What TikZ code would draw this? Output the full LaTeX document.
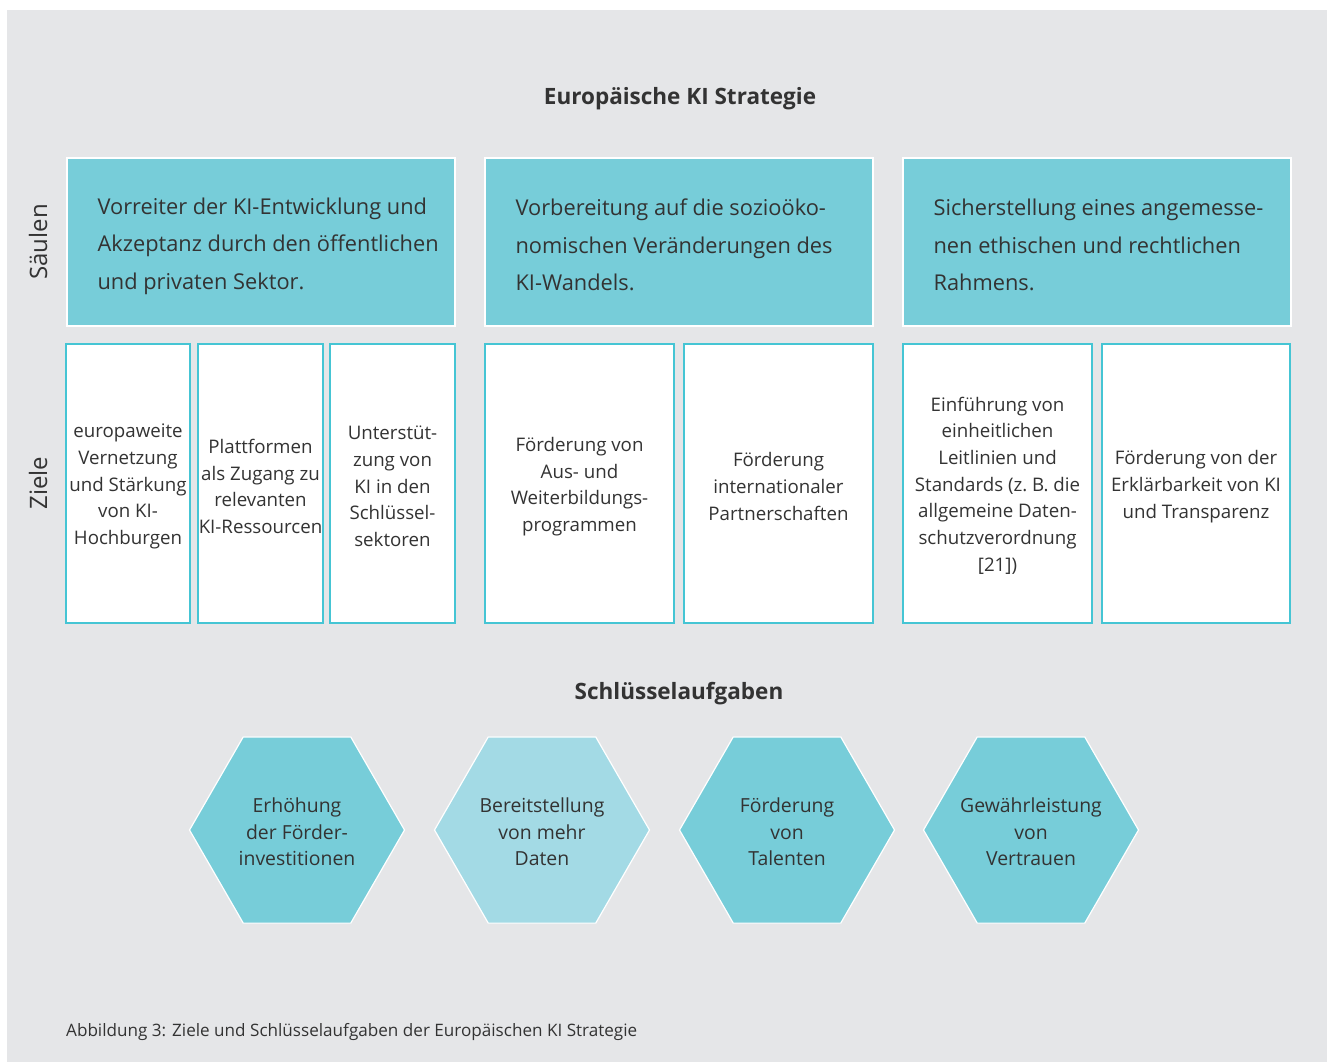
\documentclass[tikz,border=0pt]{standalone}
\usepackage{fontspec}
\setmainfont{Open Sans}
\usetikzlibrary{shapes.geometric}
\definecolor{bg}{HTML}{E5E6E8}
\definecolor{cy}{HTML}{77CDD9}
\definecolor{cyl}{HTML}{A3DAE5}
\definecolor{cyb}{HTML}{45C5D4}
\definecolor{tx}{HTML}{333333}
\begin{document}
\begin{tikzpicture}[x=1pt,y=-1pt,
  every node/.style={text=tx},
  saule/.style={fill=cy, draw=white, line width=1.2pt, minimum width=388pt, minimum height=168pt, inner sep=0pt},
  sauletext/.style={anchor=west, inner sep=0pt, align=left, font=\fontsize{21.8}{37.5}\selectfont},
  ziel/.style={fill=white, draw=cyb, line width=1.4pt, minimum height=279pt, inner sep=0pt},
  zieltext/.style={inner sep=0pt, align=center, font=\fontsize{18.7}{26.7}\selectfont},
  hexa/.style={regular polygon, regular polygon sides=6, minimum size=215pt, inner sep=0pt, draw=white, line width=1.2pt},
  hextext/.style={align=center, inner sep=0pt, font=\fontsize{19.4}{26.7}\selectfont},
  sidelabel/.style={rotate=90, font=\fontsize{24}{28}\selectfont},
  heading/.style={font=\fontsize{22.5}{26}\selectfont\bfseries}
]
\useasboundingbox (0,0) rectangle (1327,1062);
\fill[bg] (7,10) rectangle (1327,1062);

\node[heading] (title) at (680,99) {Europäische KI Strategie};

\node[sidelabel] (lsaeulen) at (38,242) {Säulen};
\node[sidelabel] (lziele) at (38,483) {Ziele};

\node[saule] (s1) at (261,242) {};
\node[saule] (s2) at (679,242) {};
\node[saule] (s3) at (1097,242) {};
\node[sauletext] (s1t) at ([xshift=31pt,yshift=-4pt]s1.west) {Vorreiter der KI-Entwicklung und\\Akzeptanz durch den öffentlichen\\und privaten Sektor.};
\node[sauletext] (s2t) at ([xshift=31pt,yshift=-3pt]s2.west) {Vorbereitung auf die sozioöko-\\nomischen Veränderungen des\\KI-Wandels.};
\node[sauletext] (s3t) at ([xshift=31pt,yshift=-3pt]s3.west) {Sicherstellung eines angemesse-\\nen ethischen und rechtlichen\\Rahmens.};

\node[ziel, minimum width=124pt] (z1) at (128,483.5) {};
\node[ziel, minimum width=125pt] (z2) at (260.5,483.5) {};
\node[ziel, minimum width=125pt] (z3) at (392.5,483.5) {};
\node[ziel, minimum width=189pt] (z4) at (579.5,483.5) {};
\node[ziel, minimum width=189pt] (z5) at (778.5,483.5) {};
\node[ziel, minimum width=189pt] (z6) at (997.5,483.5) {};
\node[ziel, minimum width=188pt] (z7) at (1196,483.5) {};
\node[zieltext] (z1t) at ([yshift=-3pt]z1.center) {europaweite\\Vernetzung\\und Stärkung\\von KI-\\Hochburgen};
\node[zieltext] (z2t) at ([yshift=-3pt]z2.center) {Plattformen\\als Zugang zu\\relevanten\\KI-Ressourcen};
\node[zieltext] (z3t) at ([yshift=-3pt]z3.center) {Unterstüt-\\zung von\\KI in den\\Schlüssel-\\sektoren};
\node[zieltext] (z4t) at ([yshift=-3pt]z4.center) {Förderung von\\Aus- und\\Weiterbildungs-\\programmen};
\node[zieltext] (z5t) at ([yshift=-3pt]z5.center) {Förderung\\internationaler\\Partnerschaften};
\node[zieltext] (z6t) at ([yshift=-2pt]z6.center) {Einführung von\\einheitlichen\\Leitlinien und\\Standards (z.~B. die\\allgemeine Daten-\\schutzverordnung\\{[21]})};
\node[zieltext] (z7t) at ([yshift=-3pt]z7.center) {Förderung von der\\Erklärbarkeit von KI\\und Transparenz};

\node[heading] (sub) at (679,694) {Schlüsselaufgaben};

\node[hexa, fill=cy] (h1) at (297,830) {};
\node[hexa, fill=cyl] (h2) at (542,830) {};
\node[hexa, fill=cy] (h3) at (787,830) {};
\node[hexa, fill=cy] (h4) at (1031,830) {};
\node[hextext] (h1t) at ([yshift=-2pt]h1.center) {Erhöhung\\der Förder-\\investitionen};
\node[hextext] (h2t) at ([yshift=-2pt]h2.center) {Bereitstellung\\von mehr\\Daten};
\node[hextext] (h3t) at ([yshift=-2pt]h3.center) {Förderung\\von\\Talenten};
\node[hextext] (h4t) at ([yshift=-2pt]h4.center) {Gewährleistung\\von\\Vertrauen};

\node[anchor=west, inner sep=0pt, font=\fontsize{17.1}{20}\selectfont] (cap) at (66,1032) {Abbildung 3: Ziele und Schlüsselaufgaben der Europäischen KI Strategie};
\end{tikzpicture}
\end{document}
